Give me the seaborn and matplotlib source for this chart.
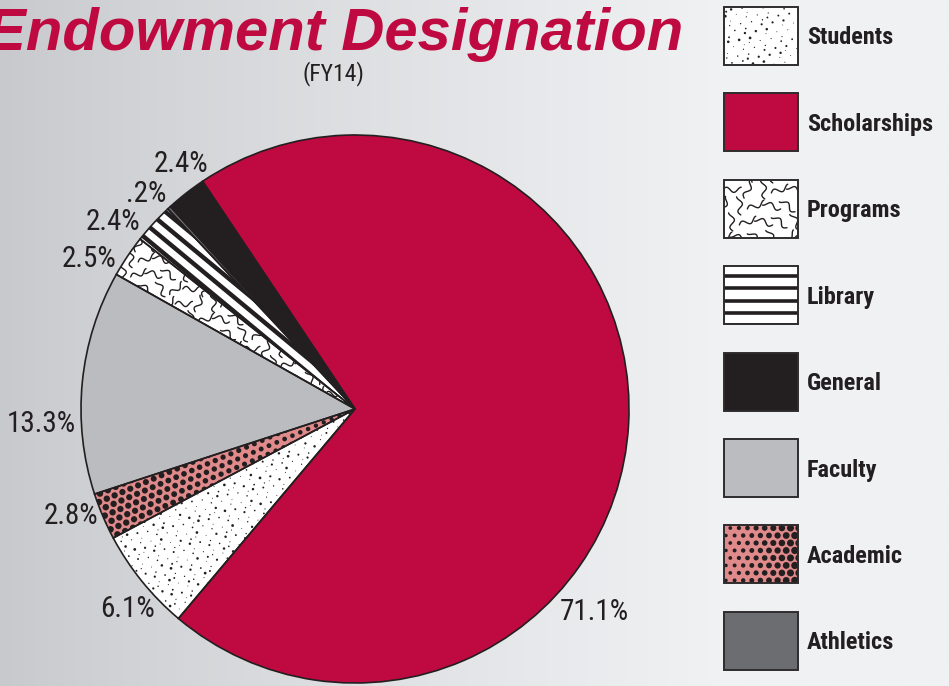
import numpy as np
import matplotlib
matplotlib.use("Agg")
import matplotlib.pyplot as plt
import seaborn as sns
from matplotlib.patches import Rectangle, Wedge
from matplotlib.collections import LineCollection
from matplotlib.colors import LinearSegmentedColormap

# ---------------- data ----------------
categories = ["Scholarships", "Students", "Academic", "Faculty",
              "Programs", "Library", "Athletics", "General"]
values = [71.1, 6.1, 2.8, 13.3, 2.5, 2.4, 0.2, 2.4]
pct_labels = ["71.1%", "6.1%", "2.8%", "13.3%", "2.5%", "2.4%", ".2%", "2.4%"]
legend_order = ["Students", "Scholarships", "Programs", "Library",
                "General", "Faculty", "Academic", "Athletics"]
title = "Endowment Designation"
subtitle = "(FY14)"

fill_colors = {
    "Scholarships": "#be0a41",
    "Students": "#ffffff",
    "Academic": "#e08a8b",
    "Faculty": "#bbbcc0",
    "Programs": "#ffffff",
    "Library": "#ffffff",
    "Athletics": "#6c6d70",
    "General": "#231f20",
}
textures = {"Students": "stipple", "Programs": "squiggle",
            "Library": "stripes", "Academic": "halftone"}

# label anchor positions (screen px: centre x, baseline y)
label_pos = {"Scholarships": (594, 620), "Students": (128, 617),
             "Academic": (71, 524), "Faculty": (41, 432),
             "Programs": (89, 267), "Library": (113, 230),
             "Athletics": (146, 202), "General": (181, 172)}

W, H = 949, 686
INK = "#231f20"

sns.set_theme(style="white")
plt.rcParams["font.family"] = ["Roboto Condensed", "DejaVu Sans"]

fig = plt.figure(figsize=(W / 100, H / 100), dpi=100)
ax = fig.add_axes([0, 0, 1, 1])

# background gradient
xs = np.linspace(0, 1, 500)
ramp = np.clip(xs / 0.75, 0, 1) ** 0.85
cmap = LinearSegmentedColormap.from_list("bg", ["#c8c9cc", "#f0f1f3"])
ax.imshow(np.tile(ramp, (2, 1)), extent=[0, W, 0, H], aspect="auto",
          cmap=cmap, vmin=0, vmax=1, zorder=0, interpolation="bilinear")

# ---------------- pie ----------------
cx, cy, R = 355, H - 409, 274
wedges, _ = ax.pie(values, colors=[fill_colors[c] for c in categories],
                   startangle=123.8, counterclock=False,
                   center=(cx, cy), radius=R,
                   wedgeprops=dict(edgecolor="none", linewidth=0, zorder=2))


# ---------------- texture helpers ----------------
def r2_seq(n):
    g = 1.32471795724474602596
    k = np.arange(1, n + 1)
    return (0.5 + k / g) % 1, (0.5 + k / g ** 2) % 1, (k * 0.61803398875) % 1


def add_stipple(clip, x0, y0, w, h, density=1 / 55.0):
    n = int(w * h * density)
    u, v, s = r2_seq(n)
    sizes = 0.4 + 3.6 * s ** 2.2
    coll = ax.scatter(x0 + u * w, y0 + v * h, s=sizes, c=INK,
                      linewidths=0, zorder=3)
    coll.set_clip_path(clip)


def add_halftone(clip, origin, phi, ulen, vlen, dmin, dmax, spacing=8.5, centred=True):
    us, vs, ds = [], [], []
    nrow = int(vlen / spacing) + 2
    ncol = int(ulen / spacing) + 2
    for j in range(-nrow if centred else 0, nrow + 1):
        for i in range(ncol + 1):
            u = i * spacing + (spacing / 2 if j % 2 else 0)
            v = j * spacing * 0.87
            us.append(u)
            vs.append(v)
            ds.append(dmin + (dmax - dmin) * min(u / ulen, 1.0))
    us, vs, ds = map(np.array, (us, vs, ds))
    c, s = np.cos(phi), np.sin(phi)
    x = origin[0] + us * c - vs * s
    y = origin[1] + us * s + vs * c
    coll = ax.scatter(x, y, s=(ds * 0.72) ** 2, c=INK, linewidths=0, zorder=3)
    coll.set_clip_path(clip)


def add_squiggles(clip, x0, y0, w, h, cell=15.0):
    t = np.linspace(0, 1, 24)
    angles = np.deg2rad([20, 115, 65, 160, 40, 95, 140, 0])
    segs = []
    nx, ny = int(w / cell) + 2, int(h / cell) + 2
    for i in range(-1, nx):
        for j in range(-1, ny):
            a = angles[(i * 3 + j * 5) % len(angles)]
            L = cell * 1.15
            sx = (t - 0.5) * L
            p = 2.6 * np.sin(t * 2 * np.pi * 1.25)
            px = x0 + (i + 0.5 * (j % 2)) * cell
            py = y0 + j * cell
            segs.append(np.column_stack([px + sx * np.cos(a) - p * np.sin(a),
                                         py + sx * np.sin(a) + p * np.cos(a)]))
    lc = LineCollection(segs, colors=INK, linewidths=1.0, zorder=3,
                        capstyle="round")
    ax.add_collection(lc)
    lc.set_clip_path(clip)


def add_stripes(clip, origin, phi, length, half_width, pitch, lw, start=0.0):
    c, s = np.cos(phi), np.sin(phi)
    segs = []
    k = np.arange(-int(half_width / pitch) - 1, int(half_width / pitch) + 2)
    for off in k * pitch + start:
        x0 = origin[0] - off * s
        y0 = origin[1] + off * c
        segs.append([(x0, y0), (x0 + length * c, y0 + length * s)])
    lc = LineCollection(segs, colors=INK, linewidths=lw, zorder=3)
    ax.add_collection(lc)
    lc.set_clip_path(clip)


# textures on pie wedges
for name, w in zip(categories, wedges):
    kind = textures.get(name)
    if kind is None:
        continue
    ext = w.get_path().get_extents()
    phi = np.deg2rad((w.theta1 + w.theta2) / 2)
    if kind == "stipple":
        add_stipple(w, ext.x0, ext.y0, ext.width, ext.height)
    elif kind == "squiggle":
        add_squiggles(w, ext.x0, ext.y0, ext.width, ext.height)
    elif kind == "halftone":
        add_halftone(w, (cx, cy), phi, R, R * 0.2, 4.0, 6.5)
    elif kind == "stripes":
        add_stripes(w, (cx, cy), phi + np.deg2rad(3), R * 1.1, R * 0.14, 11.0, 3.2, start=2)

# outlines on top
for w in wedges:
    ax.add_patch(Wedge(w.center, w.r, w.theta1, w.theta2, fill=False,
                       edgecolor=INK, linewidth=1.2, zorder=4))

# percentage labels
for name, lab in zip(categories, pct_labels):
    x, yb = label_pos[name]
    ax.text(x, H - yb, lab, ha="center", va="baseline", fontsize=21,
            color=INK, zorder=5)

# ---------------- legend ----------------
box_x, box_w, box_h = 724, 74, 58
top0, pitch = 7, 86.4
for i, name in enumerate(legend_order):
    y0 = H - (top0 + i * pitch) - box_h
    rect = Rectangle((box_x, y0), box_w, box_h, facecolor=fill_colors[name],
                     edgecolor="none", zorder=3)
    ax.add_patch(rect)
    kind = textures.get(name)
    if kind == "stipple":
        add_stipple(rect, box_x, y0, box_w, box_h, density=1 / 60.0)
    elif kind == "squiggle":
        add_squiggles(rect, box_x, y0, box_w, box_h, cell=16)
    elif kind == "halftone":
        add_halftone(rect, (box_x + 2, y0 + 3), 0.0, box_w, box_h, 3.5, 7.5,
                     spacing=8.6, centred=False)
    elif kind == "stripes":
        add_stripes(rect, (box_x, y0), 0.0, box_w, box_h, 12.4, 2.6,
                    start=box_h - 9.5 - 12.4 * 4)
    ax.add_patch(Rectangle((box_x, y0), box_w, box_h, fill=False,
                           edgecolor="#2e2c2d", linewidth=1.4, zorder=4))
    ax.text(807, y0 + box_h / 2 - 8.5, name, ha="left", va="baseline",
            fontsize=17.5, fontweight="bold", color=INK, zorder=5)

# ---------------- titles ----------------
ax.text(683, H - 50, title, ha="right", va="baseline", fontsize=43,
        fontweight="bold", fontstyle="italic", color="#be0a41", zorder=6,
        family=["Liberation Sans", "DejaVu Sans"])
ax.text(333, H - 80, subtitle, ha="center", va="baseline", fontsize=17,
        color=INK, zorder=6)

ax.set_xlim(0, W)
ax.set_ylim(0, H)
ax.set_aspect("equal")
ax.axis("off")

fig.savefig("out.png", dpi=100)
